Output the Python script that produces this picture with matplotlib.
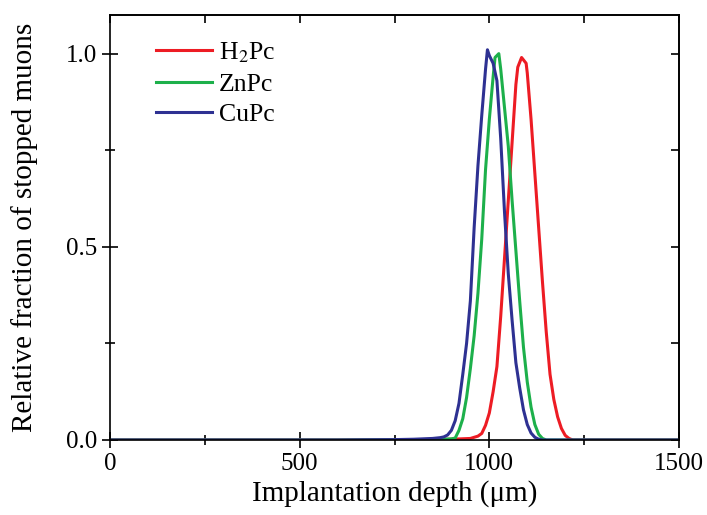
import matplotlib
matplotlib.use("Agg")
import matplotlib.pyplot as plt
from matplotlib.ticker import MultipleLocator

plt.rcParams['font.family'] = ['Liberation Serif', 'DejaVu Serif']
plt.rcParams['mathtext.fontset'] = 'stix'

# H2Pc (red)
x_h2 = [0, 200, 400, 600, 800, 900, 950, 970, 980, 990, 1000, 1010, 1020, 1030, 1040,
        1050, 1060, 1070, 1075, 1085, 1097, 1100, 1110, 1120, 1130, 1140, 1150, 1160,
        1170, 1180, 1190, 1200, 1210, 1220, 1300, 1400, 1500]
y_h2 = [0, 0, 0, 0, 0.001, 0.002, 0.004, 0.01, 0.017, 0.038, 0.07, 0.125, 0.19, 0.32, 0.47,
        0.62, 0.77, 0.92, 0.965, 0.99, 0.975, 0.95, 0.83, 0.69, 0.55, 0.41, 0.28, 0.17,
        0.105, 0.06, 0.03, 0.012, 0.004, 0.0, 0, 0, 0]

# ZnPc (green)
x_zn = [0, 200, 400, 600, 800, 850, 880, 900, 910, 920, 930, 940, 950, 960, 970, 980,
        990, 1000, 1010, 1015, 1025, 1030, 1040, 1050, 1060, 1070, 1080, 1090, 1100,
        1110, 1120, 1130, 1140, 1150, 1300, 1500]
y_zn = [0, 0, 0, 0, 0.001, 0.001, 0.002, 0.003, 0.005, 0.025, 0.055, 0.11, 0.185, 0.27,
        0.38, 0.52, 0.70, 0.83, 0.94, 0.99, 1.0, 0.96, 0.86, 0.76, 0.62, 0.49, 0.36,
        0.24, 0.15, 0.085, 0.04, 0.015, 0.004, 0.0, 0, 0]

# CuPc (blue)
x_cu = [0, 200, 400, 600, 750, 800, 850, 870, 880, 890, 900, 910, 920, 930, 940, 950,
        960, 970, 980, 990, 995, 1000, 1010, 1020, 1030, 1040, 1050, 1060, 1070, 1080,
        1090, 1100, 1110, 1120, 1130, 1140, 1300, 1500]
y_cu = [0, 0, 0, 0, 0.001, 0.002, 0.004, 0.006, 0.008, 0.013, 0.025, 0.05, 0.095, 0.17,
        0.25, 0.36, 0.55, 0.71, 0.84, 0.96, 1.01, 0.995, 0.975, 0.93, 0.78, 0.59, 0.43,
        0.31, 0.20, 0.135, 0.078, 0.04, 0.018, 0.007, 0.002, 0.0, 0, 0]

labels = [r'H$_2$Pc', 'ZnPc', 'CuPc']
colors = ['#ED1C24', '#1DB04B', '#2E3192']

fig = plt.figure(figsize=(7.07, 5.15), dpi=100)
ax = fig.add_axes([110/707, 75/515, 569/707, 425/515])

for xs, ys, lab, c in zip([x_h2, x_zn, x_cu], [y_h2, y_zn, y_cu], labels, colors):
    ax.plot(xs, ys, color=c, lw=2.2, label=lab)

ax.set_xlim(0, 1500)
ax.set_ylim(0, 1.1)
ax.xaxis.set_major_locator(MultipleLocator(500))
ax.xaxis.set_minor_locator(MultipleLocator(250))
ax.yaxis.set_major_locator(MultipleLocator(0.5))
ax.yaxis.set_minor_locator(MultipleLocator(0.25))
ax.yaxis.set_major_formatter(matplotlib.ticker.FormatStrFormatter('%.1f'))
ax.tick_params(which='major', direction='inout', length=12, width=1.2, labelsize=18, pad=3)
ax.tick_params(which='minor', direction='inout', length=7, width=1.2)

secx = ax.secondary_xaxis('top')
secx.xaxis.set_major_locator(MultipleLocator(500))
secx.xaxis.set_minor_locator(MultipleLocator(250))
secx.tick_params(which='both', direction='in', length=6, width=1.2, labeltop=False)
secy = ax.secondary_yaxis('right')
secy.yaxis.set_major_locator(MultipleLocator(0.5))
secy.yaxis.set_minor_locator(MultipleLocator(0.25))
secy.tick_params(which='both', direction='in', length=6, width=1.2, labelright=False)

for sp in ax.spines.values():
    sp.set_linewidth(1.2)
secx.spines['top'].set_linewidth(1.2)
secy.spines['right'].set_linewidth(1.2)

ax.set_xlabel('Implantation depth (μm)', fontsize=21, labelpad=4)
ax.set_ylabel('Relative fraction of stopped muons', fontsize=21, labelpad=20)

ax.legend(loc='upper left', frameon=False, fontsize=18.5, handlelength=2.15,
          handletextpad=0.28, labelspacing=0.3, bbox_to_anchor=(0.041, 0.995))

fig.savefig('out.png', dpi=100)
